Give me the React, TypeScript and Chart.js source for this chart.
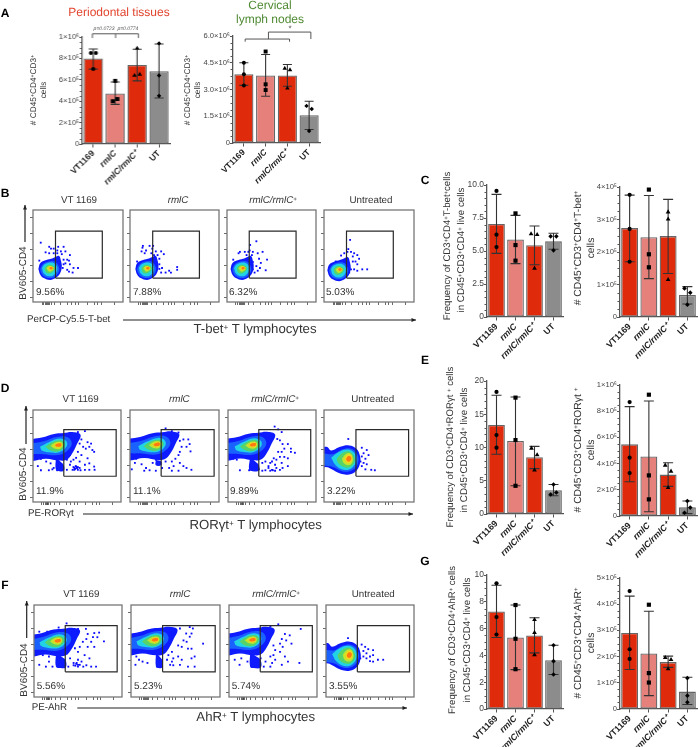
import React, { useEffect, useRef } from "react";
import { Chart, registerables } from "chart.js";

Chart.register(...registerables);

const FONT = '"Liberation Sans", Arial, sans-serif';
const RED = "#DF2A0C";
const PINK = "#E6807A";
const GREY = "#8C8C8C";
const AXIS = "#555555";

// ---------- Bar chart data ----------
const categories = ["VT1169", "rmlC", "rmlC/rmlC⁺", "UT"];

const a1Ticks = [0, 2e5, 4e5, 6e5, 8e5, 1e6];
const a1TickLabels = ["0", "2×10⁵", "4×10⁵", "6×10⁵", "8×10⁵", "1×10⁶"];
const a1Means = [8.0e5, 4.72e5, 7.38e5, 6.8e5];
const a1Lo = [7.0e5, 3.7e5, 5.9e5, 4.3e5];
const a1Hi = [8.88e5, 5.8e5, 8.85e5, 9.35e5];
const a1Pts = [
  [[-0.11, 8.5e5], [0.12, 8.5e5], [0, 7.0e5]],
  [[0, 5.9e5], [0.1, 4.2e5], [-0.11, 4.0e5]],
  [[0, 8.95e5], [-0.12, 6.4e5], [0.12, 6.5e5]],
  [[0, 9.4e5], [0, 6.4e5], [0, 4.5e5]],
];
const a1Brackets = [
  [[-0.04, 0.99e6], [-0.04, 1.03e6], [2.06, 1.03e6], [2.06, 0.99e6]],
  [[1.02, 1.03e6], [1.02, 0.99e6]],
];

const a2Ticks = [0, 1.5e6, 3e6, 4.5e6, 6e6];
const a2TickLabels = ["0", "1.5×10⁶", "3.0×10⁶", "4.5×10⁶", "6.0×10⁶"];
const a2Means = [3.86e6, 3.79e6, 3.79e6, 1.56e6];
const a2Lo = [3.23e6, 2.62e6, 3.18e6, 0.76e6];
const a2Hi = [4.5e6, 4.96e6, 4.4e6, 2.34e6];
const a2Pts = [
  [[0, 4.5e6], [0, 3.85e6], [0, 3.23e6]],
  [[0, 5.13e6], [0, 3.29e6], [0, 2.97e6]],
  [[-0.12, 4.18e6], [0.12, 4.1e6], [0, 3.07e6]],
  [[-0.12, 2.08e6], [0.12, 1.91e6], [0, 0.67e6]],
];
const a2Brackets = [
  [[0.06, 5.68e6], [0.06, 5.83e6], [2.1, 5.83e6], [2.1, 5.68e6]],
  [[1.13, 5.83e6], [1.13, 6.22e6], [3.08, 6.22e6], [3.08, 5.83e6]],
];

const c1Ticks = [0, 2.5, 5, 7.5, 10];
const c1TickLabels = ["0", "2.5", "5.0", "7.5", "10.0"];
const c1Means = [7.05, 5.88, 5.43, 5.73];
const c1Lo = [4.82, 4.04, 3.96, 5.13];
const c1Hi = [9.29, 7.7, 6.89, 6.34];
const c1Pts = [
  [[0, 9.55], [0, 6.24], [0, 5.3]],
  [[0, 7.85], [0, 5.45], [0, 4.27]],
  [[-0.18, 6.29], [0.14, 6.24], [0, 3.69]],
  [[-0.15, 6.11], [0.15, 6.11], [0, 5.05]],
];

const c2Ticks = [0, 1e5, 2e5, 3e5, 4e5];
const c2TickLabels = ["0", "1×10⁵", "2×10⁵", "3×10⁵", "4×10⁵"];
const c2Means = [2.735e5, 2.457e5, 2.49e5, 0.68e5];
const c2Lo = [1.7e5, 1.18e5, 1.34e5, 0.4e5];
const c2Hi = [3.75e5, 3.74e5, 3.62e5, 0.936e5];
const c2Pts = [
  [[0, 3.76e5], [0, 2.71e5], [0, 1.7e5]],
  [[0, 3.92e5], [0, 1.93e5], [0, 1.53e5]],
  [[0, 3.23e5], [0, 3.01e5], [0, 1.15e5]],
  [[-0.15, 0.88e5], [0.15, 0.75e5], [0, 0.38e5]],
];

const e1Ticks = [0, 5, 10, 15, 20];
const e1TickLabels = ["0", "5", "10", "15", "20"];
const e1Means = [13.4, 10.97, 8.53, 3.59];
const e1Lo = [8.98, 4.24, 6.83, 2.74];
const e1Hi = [17.86, 17.6, 10.17, 4.44];
const e1Pts = [
  [[0, 18.35], [0, 11.87], [0, 9.97]],
  [[0, 17.5], [0, 11.12], [0, 4.24]],
  [[-0.16, 9.88], [0.14, 8.88], [0, 6.58]],
  [[0, 4.44], [-0.15, 2.94], [0.15, 3.24]],
];

const e2Ticks = [0, 2e5, 4e5, 6e5, 8e5, 1e6];
const e2TickLabels = ["0", "2×10⁵", "4×10⁵", "6×10⁵", "8×10⁵", "1×10⁶"];
const e2Means = [5.47e5, 4.55e5, 3.16e5, 0.66e5];
const e2Lo = [2.62e5, 0.33e5, 2.26e5, 0.18e5];
const e2Hi = [8.35e5, 8.78e5, 4.07e5, 1.15e5];
const e2Pts = [
  [[0, 8.7e5], [0, 4.45e5], [0, 3.28e5]],
  [[0, 9.26e5], [0, 3.1e5], [0, 1.27e5]],
  [[-0.15, 3.87e5], [0.15, 3.41e5], [0, 2.16e5]],
  [[0, 1.15e5], [0.15, 0.64e5], [-0.15, 0.25e5]],
];

const g1Ticks = [0, 2, 4, 6, 8, 10];
const g1TickLabels = ["0", "2", "4", "6", "8", "10"];
const g1Means = [7.28, 5.34, 5.49, 3.64];
const g1Lo = [5.34, 2.94, 4.19, 2.57];
const g1Hi = [9.23, 7.76, 6.81, 4.76];
const g1Pts = [
  [[0, 9.38], [0, 6.86], [0, 5.56]],
  [[0, 7.76], [0, 5.24], [0, 2.97]],
  [[0, 6.66], [0, 5.69], [0, 4.04]],
  [[0, 4.76], [0, 3.57], [0, 2.57]],
];

const g2Ticks = [0, 1e5, 2e5, 3e5, 4e5, 5e5];
const g2TickLabels = ["0", "1×10⁵", "2×10⁵", "3×10⁵", "4×10⁵", "5×10⁵"];
const g2Means = [2.9e5, 2.12e5, 1.79e5, 0.665e5];
const g2Lo = [1.51e5, 0.51e5, 1.59e5, 0.17e5];
const g2Hi = [4.31e5, 3.73e5, 2.02e5, 1.21e5];
const g2Pts = [
  [[0, 4.5e5], [0, 2.28e5], [0, 1.91e5]],
  [[0, 3.98e5], [0, 1.37e5], [0, 1.01e5]],
  [[-0.15, 1.96e5], [0.15, 1.88e5], [0, 1.53e5]],
  [[0, 1.18e5], [0, 0.51e5], [0, 0.26e5]],
];

// ---------- Flow cytometry data (axes run 0–100 across each frame) ----------
const densityColors = ["#0f1bff", "#1a62ff", "#22d3e6", "#56d468", "#c5e32c", "#ffd21c", "#ff7a10", "#e6120c"];

const smallBlob = [
  [[6, 36], [8, 42], [13, 45], [20, 47], [25, 49], [29, 50], [31, 45], [32, 38], [30, 31], [25, 26], [19, 24], [12, 26], [8, 30]],
  [[8, 36], [11, 41], [17, 44], [24, 44], [28, 40], [29, 34], [25, 28], [19, 26], [12, 28], [9, 32]],
  [[10, 37], [13, 41], [20, 43], [25, 41], [27, 36], [24, 30], [18, 28], [12, 31]],
  [[13, 37], [16, 40], [21, 40], [24, 38], [24, 35], [21, 32], [17, 31], [14, 33]],
  [[15, 37], [18, 39], [22, 38], [23, 36], [21, 34], [18, 33], [16, 35]],
  [[17, 37], [19, 38.5], [22, 38], [22.5, 36.5], [20.5, 35], [18, 35]],
  [[18, 37], [20, 38], [22, 37], [21, 35.5], [19, 35.5]],
];
const cometBlob = [
  [[-5, 68], [10, 70], [24, 74], [35, 75], [45, 76], [54, 73], [50, 63], [44, 52], [38, 46], [30, 45], [15, 47], [-5, 46]],
  [[-5, 63], [12, 66], [28, 71], [40, 70], [44, 63], [38, 55], [28, 51], [12, 52], [-5, 54]],
  [[8, 60], [18, 65], [30, 69], [38, 66], [38, 60], [30, 54], [18, 54], [10, 56]],
  [[14, 60], [22, 65], [31, 67], [36, 64], [35, 59], [28, 55], [20, 56]],
  [[20, 61], [26, 65], [32, 65], [34, 62], [31, 58], [25, 58]],
  [[24, 62], [28, 64], [32, 64], [33, 62], [30, 59.5], [26, 60]],
  [[25, 62], [28, 63.5], [32, 63.5], [32, 61], [29, 60], [26, 60.5]],
];
const bigBlob = [
  [[-5, 58], [3, 60], [8, 56], [18, 60], [28, 61.5], [36, 58], [40, 50], [40, 42], [36, 34], [28, 30], [18, 31], [8, 36], [2, 38], [-5, 36]],
  [[-5, 54], [10, 52], [20, 57], [30, 58], [37, 52], [38, 43], [32, 35], [22, 33], [10, 38], [-5, 42]],
  [[8, 48], [16, 54], [26, 57], [34, 53], [36, 45], [31, 37], [22, 35], [13, 40]],
  [[14, 47], [20, 53], [28, 55], [33, 50], [34, 44], [29, 38], [22, 38], [16, 42]],
  [[20, 47], [24, 52], [29, 53], [32, 48], [31, 42], [27, 40], [22, 42]],
  [[23, 47], [26, 51], [30, 50.5], [31, 46], [29, 43], [25, 43]],
  [[24.5, 47], [27, 50], [30, 49], [30, 46], [28, 44], [25.5, 44.5]],
];

const flowXTicks = [10, 12, 14, 15, 16, 17, 18, 20, 24, 30, 38, 43, 47, 50, 60, 68, 72, 76, 90];
const flowYTicks = [5, 22, 40, 57, 75, 92];

const bDots = [
  [[8.6, 64.5], [14, 54], [20, 58], [18, 60], [23, 58], [28, 60], [34, 60], [27, 56], [31, 55], [36, 55], [32, 52], [38, 46], [40, 45], [34, 46], [36, 42], [41, 41], [45, 37], [50, 37], [44, 32], [40, 33], [38, 35], [34, 41], [33, 37], [27, 53], [23, 53], [18, 53], [7, 45], [41, 51]],
  [[14.5, 61], [22, 61], [18, 56], [25, 58], [29, 55], [35, 55], [31, 51], [33, 47], [29, 44], [33, 41], [36, 37], [44, 34], [53, 38], [53, 35], [40, 32], [35, 32], [46, 32], [29, 34], [33, 36], [13, 55], [16.5, 53], [24, 53], [27, 51], [8, 44], [14, 59], [26, 61], [38, 52]],
  [[33, 66], [26, 62], [25.5, 56], [24, 54.5], [29, 54.5], [34.5, 53], [40, 54.5], [28, 51], [36, 47], [45, 46], [38, 42.5], [37, 37], [29, 43.5], [33, 39], [29, 35.5], [34.5, 34], [43.5, 34.5], [14.5, 54.5], [20, 54.5], [7, 46], [31, 32], [22, 51], [13, 53]],
  [[29, 67.5], [27, 57.5], [26, 54.5], [30, 54.5], [33.5, 53], [37, 51], [32, 49.5], [39, 47], [35, 44], [37, 41], [33.5, 35.5], [30, 35.5], [37, 34], [42.5, 35.5], [48, 35.5], [19, 50.5], [13, 44], [22.5, 53], [32, 44], [28, 32]],
];
const dDots = [
  [[51, 76], [59, 77], [55, 68], [62, 65], [53, 63.5], [57, 60], [64, 60], [67.5, 56.5], [69.5, 54.5], [66, 63.5], [60, 58], [51, 54.5], [55, 51], [49, 48], [46, 46], [53, 44], [59, 40.5], [64, 42], [69.5, 38.5], [70, 35], [59, 35], [53, 37], [47, 37], [51, 35], [48.5, 39], [42, 40.5], [38.5, 35], [33, 37], [27.5, 34.5], [22, 35.5], [18, 34.5], [9, 47], [5.5, 39], [9, 34.5], [15, 44], [20, 42], [23.5, 37], [38.5, 46], [42, 51], [62, 47.5], [64, 35], [45, 35], [54, 34.5], [43, 44], [46, 38], [48, 36], [50, 37], [49, 38.5], [47, 35], [51, 38]],
  [[40, 80], [47, 77], [54.5, 75.5], [51, 70], [56, 66.5], [60, 68], [65.5, 68], [67, 63], [68, 55], [63.5, 60], [58, 60], [56, 54.5], [54.5, 51], [51, 47], [47, 44], [56, 42.5], [60, 39], [63.5, 37], [69, 35], [49, 39], [44, 37], [36, 37], [29, 34], [22, 34.5], [16, 34], [18, 37], [13, 41], [7, 47], [5.5, 42.5], [2, 35.5], [25.5, 42.5], [47, 34], [54.5, 34], [40, 44], [29, 46]],
  [[53, 82], [57, 79], [61, 76], [56, 68.5], [59, 67], [62, 63], [68, 63], [71.5, 58], [76, 53.5], [64, 58], [61, 54.5], [59, 49], [55, 46], [52, 47.5], [48, 42.5], [53.5, 40.5], [61, 42.5], [68, 47.5], [71.5, 54.5], [46, 37], [50, 35], [55, 37], [46, 39], [42.5, 44], [39, 42.5], [62, 37], [68, 39], [59, 35], [51, 34.5], [42.5, 34.5], [35, 35.5], [28, 35.5], [24, 34.5], [13.5, 34.5], [10, 46], [6, 47], [50, 44], [57, 54.5], [64, 49], [48, 34], [53.5, 34], [39, 34]],
  [[27, 68.5], [42, 59], [47.5, 56.5], [44, 53], [49.5, 51], [42, 49.5], [46, 47], [40.5, 44], [44, 42.5], [47.5, 41], [42, 39], [46, 35.5], [52.5, 35], [56.5, 34.5], [38, 41]],
];
const fDots = [
  [[6, 71], [15, 71], [28, 75.5], [37, 80], [50, 74], [59, 74], [61, 68.5], [68.5, 69.5], [74, 70], [72, 65], [67, 65], [59.5, 63], [55.5, 60], [65, 60], [61, 54.5], [68.5, 54.5], [79.5, 60.5], [52, 54.5], [46.5, 53], [50, 49], [57.5, 45.5], [63, 42], [50, 40.5], [45, 37], [37.5, 47.5], [41, 42], [50, 35], [45, 34.5], [39, 33], [65, 33], [70.5, 33], [59.5, 34.5], [54, 38.5], [10, 45.5], [17, 38.5], [13.5, 33], [6, 35], [21, 33], [30, 38.5], [52, 35], [48.5, 37], [56, 33], [17, 44], [47, 34], [50, 33], [48, 36]],
  [[55, 74.5], [66, 76], [69.5, 74.5], [68, 69], [62, 69], [66, 65.5], [59, 61.5], [62.5, 60], [81, 58], [53, 56], [57, 54.5], [64, 52.5], [68, 52.5], [46, 49], [47.5, 42], [53, 44], [57, 40.5], [68, 42], [71.5, 44], [40.5, 40.5], [44, 35], [47.5, 34.5], [55, 35], [64, 33], [71.5, 33], [6, 44], [9, 40.5], [13, 38.5], [18.5, 37], [5, 35], [46, 38.5], [42, 45.5]],
  [[56, 79], [47, 76.5], [81.5, 74], [63.5, 68.5], [69, 67], [60, 63], [65, 61.5], [58, 58], [61, 54.5], [71, 58], [50.5, 56], [52.5, 51], [47, 44], [50.5, 45.5], [58, 49], [63.5, 44], [52.5, 40.5], [49, 37], [41.5, 38.5], [36, 42], [39.5, 33], [60, 35], [67, 38.5], [80, 37], [47, 33], [12, 35], [6.5, 40.5], [14, 42], [21, 38.5]],
  [[25, 64], [40.5, 57], [44.5, 54.5], [48, 52], [53.5, 51], [42.5, 50], [46, 47.5], [50, 44], [53.5, 45.5], [42.5, 44], [59, 40.5], [65, 40.5], [53.5, 38.5], [50, 39], [39, 42], [46, 42]],
];
const dStems = [
  [[26, 48], [31, 44], [35, 40], [35, 34], [30, 33.5], [26, 35]],
  [[29, 46], [35, 44], [35, 40], [29, 40]],
  [[25, 48], [31, 44], [35, 40], [35, 34], [28, 33.5], [24, 35]],
  [],
];
const fStems = [
  [[25, 48], [31, 44], [36, 40], [36, 32], [30, 31.5], [25, 33]],
  [[28, 48], [32, 44], [35, 40], [35, 32], [31, 31.5], [28, 33]],
  [[24, 48], [31, 44], [36, 40], [36, 32], [28, 31.5], [24, 33]],
  [],
];

// ---------- Chart builders ----------
const noLegend = { legend: { display: false }, tooltip: { enabled: false } };

const barExtras = (o: any) => ({
  id: "barExtras",
  afterDatasetDraw(chart: any, args: any) {
    if (args.index !== 0) return;
    const { ctx, scales: { x, y } } = chart;
    ctx.save();
    ctx.strokeStyle = "#333333";
    ctx.lineWidth = 1.1;
    o.means.forEach((_: number, i: number) => {
      const px = x.getPixelForValue(i);
      const a = y.getPixelForValue(o.lo[i]);
      const b = y.getPixelForValue(o.hi[i]);
      ctx.beginPath();
      ctx.moveTo(px, a); ctx.lineTo(px, b);
      ctx.moveTo(px - o.cap, a); ctx.lineTo(px + o.cap, a);
      ctx.moveTo(px - o.cap, b); ctx.lineTo(px + o.cap, b);
      ctx.stroke();
    });
    ctx.restore();
  },
  afterDraw(chart: any) {
    const { ctx, scales: { x, y } } = chart;
    ctx.save();
    ctx.strokeStyle = AXIS;
    ctx.lineWidth = 1;
    for (let k = 0; k < o.ticks.length - 1; k++) {
      const v0 = o.ticks[k], v1 = o.ticks[k + 1];
      for (let m = 1; m < o.minor; m++) {
        const py = Math.round(y.getPixelForValue(v0 + ((v1 - v0) * m) / o.minor)) + 0.5;
        ctx.beginPath();
        ctx.moveTo(x.left - 2.5, py); ctx.lineTo(x.left, py);
        ctx.stroke();
      }
    }
    (o.brackets || []).forEach((path: number[][]) => {
      ctx.beginPath();
      path.forEach(([a, b], i) => {
        const px = x.getPixelForValue(a), py = y.getPixelForValue(b);
        if (i) ctx.lineTo(px, py); else ctx.moveTo(px, py);
      });
      ctx.stroke();
    });
    ctx.restore();
  },
});

const M = { l: 38, t: 14, r: 4, b: 44 };
const markerStyles = ["circle", "rect", "triangle", "rectRot"];
const markerScale = [1, 1.4, 1.3, 1.1];

function barConfig(s: any) {
  const flat: any[] = [];
  s.pts.forEach((list: number[][], i: number) =>
    list.forEach(([dx, v]) => flat.push({ x: i + dx, y: v, style: markerStyles[i], size: s.r * markerScale[i] })),
  );
  const cfg: any = {
    type: "bar",
    data: {
      datasets: [
        {
          type: "bar",
          order: 2,
          data: s.means.map((v: number, i: number) => ({ x: i, y: v })),
          backgroundColor: [RED, PINK, RED, GREY],
          borderColor: "#666666",
          borderWidth: 1.3,
          borderSkipped: false,
          barPercentage: 0.88,
          categoryPercentage: 1,
        },
        {
          type: "scatter",
          order: 1,
          data: flat,
          backgroundColor: "#000000",
          borderWidth: 0,
          pointRadius: flat.map((p) => p.size),
          pointStyle: flat.map((p) => p.style),
          clip: false,
        },
      ],
    },
    options: {
      animation: false,
      responsive: false,
      devicePixelRatio: 1,
      layout: { padding: { left: 0, top: M.t, right: M.r, bottom: 0 } },
      plugins: noLegend,
      scales: {
        x: {
          type: "linear",
          offset: false,
          min: -0.5,
          max: 3.5,
          afterBuildTicks: (sc: any) => { sc.ticks = categories.map((_, i) => ({ value: i })); },
          afterFit: (sc: any) => { sc.height = M.b; },
          border: { display: true, color: AXIS, width: 1.3 },
          grid: { display: true, offset: false, drawOnChartArea: false, drawTicks: true, tickLength: 3.5, color: AXIS, lineWidth: 1 },
          ticks: {
            autoSkip: false,
            minRotation: 45,
            maxRotation: 45,
            padding: 1,
            color: "#222222",
            font: (c: any) => ({
              family: FONT,
              size: s.catFont,
              weight: "bold",
              style: c.tick && (c.tick.value === 1 || c.tick.value === 2) ? "italic" : "normal",
            }),
            callback: (v: number) => categories[v],
          },
        },
        y: {
          min: 0,
          max: s.ticks[s.ticks.length - 1],
          afterBuildTicks: (sc: any) => { sc.ticks = s.ticks.map((value: number) => ({ value })); },
          afterFit: (sc: any) => { sc.width = M.l; },
          border: { display: true, color: AXIS, width: 1.3 },
          grid: { display: true, drawOnChartArea: false, drawTicks: true, tickLength: 3, color: AXIS, lineWidth: 1 },
          ticks: {
            padding: 0,
            color: "#444444",
            font: { family: FONT, size: s.tickFont },
            callback: (v: number) => s.tickLabels[s.ticks.indexOf(v)],
          },
        },
      },
    },
    plugins: [barExtras(s)],
  };
  return cfg;
}

const flowFrame = {
  id: "flowFrame",
  afterDraw(chart: any) {
    const { ctx, chartArea: a } = chart;
    ctx.save();
    ctx.strokeStyle = "#777777";
    ctx.lineWidth = 1.3;
    ctx.strokeRect(a.left, a.top, a.right - a.left, a.bottom - a.top);
    ctx.restore();
  },
};

function flowConfig(p: any) {
  const close = (pts: number[][]) => [...pts, pts[0]].map(([x, y]) => ({ x: x + p.shift[0], y: y + p.shift[1] }));
  const area = (pts: number[][], color: string, order: number) => ({
    data: close(pts),
    showLine: true,
    fill: "shape",
    tension: 0.4,
    borderWidth: 0,
    pointRadius: 0,
    backgroundColor: color,
    borderColor: color,
    order,
  });
  const [gx0, gx1, gy0, gy1] = p.gate;
  const datasets: any[] = [
    {
      data: p.dots.map(([x, y]: number[]) => ({ x, y })),
      pointStyle: "rect",
      pointRadius: 1.3,
      borderWidth: 0,
      backgroundColor: "#0a0aff",
      order: 100,
    },
  ];
  if (p.stem.length) {
    datasets.push({ ...area(p.stem, densityColors[0], 96), data: [...p.stem, p.stem[0]].map(([x, y]: number[]) => ({ x, y })) });
  }
  p.blob.forEach((pts: number[][], i: number) => {
    datasets.push(area(pts, i === 0 ? densityColors[0] : densityColors[i], 90 - i));
  });
  datasets.push({
    data: [[gx0, gy0], [gx1, gy0], [gx1, gy1], [gx0, gy1], [gx0, gy0]].map(([x, y]) => ({ x, y })),
    showLine: true,
    fill: false,
    borderColor: "#2a2a2a",
    borderWidth: 1.2,
    pointRadius: 0,
    order: 1,
  });
  const gridOpt = { display: true, drawOnChartArea: false, drawTicks: true, tickLength: 3, color: "#444444", lineWidth: 0.8 };
  return {
    type: "scatter",
    data: { datasets },
    options: {
      animation: false,
      responsive: false,
      devicePixelRatio: 1,
      layout: { padding: { top: 1, right: 1, left: 0, bottom: 0 } },
      plugins: noLegend,
      scales: {
        x: {
          type: "linear",
          min: 0,
          max: 100,
          afterBuildTicks: (sc: any) => { sc.ticks = flowXTicks.map((value) => ({ value })); },
          afterFit: (sc: any) => { sc.height = 4; },
          border: { display: false },
          grid: gridOpt,
          ticks: { display: false },
        },
        y: {
          min: 0,
          max: 100,
          afterBuildTicks: (sc: any) => { sc.ticks = flowYTicks.map((value) => ({ value })); },
          afterFit: (sc: any) => { sc.width = 4; },
          border: { display: false },
          grid: gridOpt,
          ticks: { display: false },
        },
      },
    },
    plugins: [flowFrame],
  };
}

// ---------- Layout tables ----------
const barPanels = [
  { left: 82, right: 169.5, top: 37, bottom: 144, ticks: a1Ticks, tickLabels: a1TickLabels, means: a1Means, lo: a1Lo, hi: a1Hi, pts: a1Pts, minor: 4, tickFont: 7.6, catFont: 8.5, cap: 4.5, r: 2, brackets: a1Brackets },
  { left: 233, right: 320, top: 36, bottom: 143, ticks: a2Ticks, tickLabels: a2TickLabels, means: a2Means, lo: a2Lo, hi: a2Hi, pts: a2Pts, minor: 4, tickFont: 7.6, catFont: 8.5, cap: 4.5, r: 2, brackets: a2Brackets },
  { left: 487, right: 563, top: 185, bottom: 317, ticks: c1Ticks, tickLabels: c1TickLabels, means: c1Means, lo: c1Lo, hi: c1Hi, pts: c1Pts, minor: 5, tickFont: 8.5, catFont: 8.8, cap: 5, r: 2.1 },
  { left: 620, right: 697, top: 187, bottom: 317, ticks: c2Ticks, tickLabels: c2TickLabels, means: c2Means, lo: c2Lo, hi: c2Hi, pts: c2Pts, minor: 4, tickFont: 7.6, catFont: 8.8, cap: 5, r: 2.1 },
  { left: 487, right: 563, top: 381, bottom: 514, ticks: e1Ticks, tickLabels: e1TickLabels, means: e1Means, lo: e1Lo, hi: e1Hi, pts: e1Pts, minor: 5, tickFont: 8.5, catFont: 8.8, cap: 5, r: 2.1 },
  { left: 620, right: 697, top: 385, bottom: 516, ticks: e2Ticks, tickLabels: e2TickLabels, means: e2Means, lo: e2Lo, hi: e2Hi, pts: e2Pts, minor: 4, tickFont: 7.6, catFont: 8.8, cap: 5, r: 2.1 },
  { left: 487, right: 563, top: 575, bottom: 709, ticks: g1Ticks, tickLabels: g1TickLabels, means: g1Means, lo: g1Lo, hi: g1Hi, pts: g1Pts, minor: 4, tickFont: 8.5, catFont: 8.8, cap: 5, r: 2.1 },
  { left: 620, right: 697, top: 578, bottom: 709, ticks: g2Ticks, tickLabels: g2TickLabels, means: g2Means, lo: g2Lo, hi: g2Hi, pts: g2Pts, minor: 4, tickFont: 7.6, catFont: 8.8, cap: 5, r: 2.1 },
];

const flowPanels = [
  { top: 207, bottom: 302, frames: [[33, 126], [130, 222], [227, 319], [324, 417]], gates: [[25, 77, 26, 77], [25.5, 78, 26, 77], [25, 77.6, 26, 77], [25, 77, 26, 77]], blobs: [smallBlob, smallBlob, smallBlob, smallBlob], shifts: [[0, 0], [0, 0], [-2, 0], [-2.3, -1.4]], dots: bDots, stems: [[], [], [], []] },
  { top: 407, bottom: 502, frames: [[33, 124], [130, 222], [228, 319], [324, 417]], gates: [[35, 94.5, 28, 78.7], [35, 94.5, 28, 78.7], [35, 94, 28, 78.7], [35.5, 94, 28, 78.7]], blobs: [cometBlob, cometBlob, cometBlob, bigBlob], shifts: [[0, 0], [1.3, 0.7], [-0.5, 0.3], [0, 0]], dots: dDots, stems: dStems },
  { top: 602, bottom: 697, frames: [[34, 125], [131, 223], [229, 320], [326, 417]], gates: [[35.5, 94.5, 27.4, 77.5], [35.5, 94.6, 27.4, 77.5], [35.5, 94.7, 27.4, 77.5], [35.6, 94.9, 27.4, 77.5]], blobs: [cometBlob, cometBlob, cometBlob, bigBlob], shifts: [[-1.8, -0.7], [-1.9, 0.3], [-2.2, 0.3], [-1, -1.4]], dots: fDots, stems: fStems },
];

// x, y (centre), size, text; optional rot, color, bold, italic, anchor
const labels: any[] = [
  { x: 5, y: 13, s: 12, t: "A", bold: true, c: "#000" },
  { x: 5, y: 193, s: 12, t: "B", bold: true, c: "#000" },
  { x: 5, y: 388, s: 12, t: "D", bold: true, c: "#000" },
  { x: 5, y: 585, s: 12, t: "F", bold: true, c: "#000" },
  { x: 425, y: 180, s: 12, t: "C", bold: true, c: "#000" },
  { x: 425, y: 360, s: 12, t: "E", bold: true, c: "#000" },
  { x: 425, y: 561, s: 12, t: "G", bold: true, c: "#000" },

  { x: 119, y: 12, s: 12, t: "Periodontal tissues", c: "#E2452F" },
  { x: 270, y: 5, s: 12, t: "Cervical", c: "#4F8A33" },
  { x: 270, y: 19, s: 12, t: "lymph nodes", c: "#4F8A33" },
  { x: 116, y: 29, s: 5, t: "p=0.0723  p=0.0774", italic: true, c: "#555" },
  { x: 290, y: 29, s: 8, t: "*", c: "#444" },

  { x: 33, y: 90, s: 8.3, rot: -90, t: "# CD45⁺CD4⁺CD3⁺" },
  { x: 43, y: 90, s: 8.3, rot: -90, t: "cells" },
  { x: 187, y: 90, s: 8.3, rot: -90, t: "# CD45⁺CD4⁺CD3⁺" },
  { x: 197, y: 90, s: 8.3, rot: -90, t: "cells" },

  { x: 448, y: 246, s: 9.6, rot: -90, t: "Frequency of CD3⁺CD4⁺T-bet⁺cells" },
  { x: 462, y: 250, s: 9.8, rot: -90, t: "in CD45⁺CD3⁺CD4⁺ live cells" },
  { x: 579, y: 248, s: 10.3, rot: -90, t: "# CD45⁺CD3⁺CD4⁺T-bet⁺" },
  { x: 592, y: 248, s: 10.3, rot: -90, t: "cells" },
  { x: 451, y: 447, s: 9.6, rot: -90, t: "Frequency of CD3⁺CD4⁺RORγt ⁺ cells" },
  { x: 465, y: 450, s: 9.8, rot: -90, t: "in CD45⁺CD3⁺CD4⁺ live cells" },
  { x: 579, y: 450, s: 10.3, rot: -90, t: "# CD45⁺CD3⁺CD4⁺RORγt ⁺" },
  { x: 592, y: 450, s: 10.3, rot: -90, t: "cells" },
  { x: 453, y: 640, s: 9.6, rot: -90, t: "Frequency of CD3⁺CD4⁺AhR⁺ cells" },
  { x: 468, y: 640, s: 9.8, rot: -90, t: "in CD45⁺CD3⁺CD4⁺ live cells" },
  { x: 579, y: 643, s: 10.3, rot: -90, t: "# CD45⁺CD3⁺CD4⁺AhR⁺" },
  { x: 592, y: 643, s: 10.3, rot: -90, t: "cells" },

  { x: 79, y: 200.5, s: 9.8, t: "VT 1169" },
  { x: 178, y: 200.5, s: 9.8, t: "rmlC", italic: true },
  { x: 273, y: 200.5, s: 9.8, t: "rmlC/rmlC⁺", italic: true },
  { x: 371, y: 200.5, s: 9.8, t: "Untreated" },
  { x: 36, y: 292.5, s: 10, t: "9.56%", a: "l" },
  { x: 133, y: 292.5, s: 10, t: "7.88%", a: "l" },
  { x: 229, y: 292.5, s: 10, t: "6.32%", a: "l" },
  { x: 326, y: 292.5, s: 10, t: "5.03%", a: "l" },
  { x: 24, y: 273, s: 10, rot: -90, t: "BV605-CD4" },
  { x: 27, y: 320, s: 9.8, t: "PerCP-Cy5.5-T-bet", a: "l" },
  { x: 255, y: 329, s: 13.2, t: "T-bet⁺ T lymphocytes" },

  { x: 80.7, y: 400, s: 9.8, t: "VT 1169" },
  { x: 179.3, y: 400, s: 9.8, t: "rmlC", italic: true },
  { x: 275, y: 400, s: 9.8, t: "rmlC/rmlC⁺", italic: true },
  { x: 372.7, y: 400, s: 9.8, t: "Untreated" },
  { x: 36, y: 492, s: 10, t: "11.9%", a: "l" },
  { x: 133, y: 492, s: 10, t: "11.1%", a: "l" },
  { x: 230, y: 492, s: 10, t: "9.89%", a: "l" },
  { x: 327, y: 492, s: 10, t: "3.22%", a: "l" },
  { x: 24, y: 474, s: 10, rot: -90, t: "BV605-CD4" },
  { x: 28, y: 514, s: 9.8, t: "PE-RORγt", a: "l" },
  { x: 255.7, y: 524.7, s: 13.2, t: "RORγt⁺ T lymphocytes" },

  { x: 81.3, y: 595, s: 9.8, t: "VT 1169" },
  { x: 180, y: 595, s: 9.8, t: "rmlC", italic: true },
  { x: 276, y: 595, s: 9.8, t: "rmlC/rmlC⁺", italic: true },
  { x: 373.3, y: 595, s: 9.8, t: "Untreated" },
  { x: 36.7, y: 687, s: 10, t: "5.56%", a: "l" },
  { x: 134, y: 687, s: 10, t: "5.23%", a: "l" },
  { x: 231.7, y: 687, s: 10, t: "5.74%", a: "l" },
  { x: 329, y: 687, s: 10, t: "3.55%", a: "l" },
  { x: 25, y: 670, s: 10, rot: -90, t: "BV605-CD4" },
  { x: 31.7, y: 708, s: 9.8, t: "PE-AhR", a: "l" },
  { x: 255.7, y: 717, s: 13.2, t: "AhR⁺ T lymphocytes" },
];

// x1, y1, x2, y2 with the arrow head at x2, y2
const arrows = [
  [25, 242, 25, 205],
  [123, 320, 416, 320],
  [26, 444, 26, 406],
  [83, 514, 413, 514],
  [26.7, 638, 26.7, 601],
  [77.3, 708, 407, 708],
];

// ---------- Components ----------
function Box({ x, y, w, h, config }: any) {
  const ref = useRef<HTMLCanvasElement>(null);
  useEffect(() => {
    const chart = new Chart(ref.current as any, config());
    return () => chart.destroy();
  }, []);
  return (
    <canvas
      ref={ref}
      width={w}
      height={h}
      style={{ position: "absolute", left: x, top: y, width: w, height: h, display: "block" }}
    />
  );
}

function Text({ l }: any) {
  const parts = String(l.t).split("⁺");
  const tr = `translate(${l.a === "l" ? "0" : "-50%"}, -50%) rotate(${l.rot || 0}deg)`;
  return (
    <div
      style={{
        position: "absolute",
        left: l.x,
        top: l.y,
        transform: tr,
        whiteSpace: "pre",
        fontFamily: FONT,
        fontSize: l.s,
        lineHeight: 1,
        textRendering: "geometricPrecision",
        color: l.c || "#333333",
        fontWeight: l.bold ? 700 : 400,
        fontStyle: l.italic ? "italic" : "normal",
      }}
    >
      {parts.map((p, i) => (
        <React.Fragment key={i}>
          {p}
          {i < parts.length - 1 ? (
            <sup style={{ fontSize: "0.62em", lineHeight: 0, verticalAlign: "0.42em" }}>+</sup>
          ) : null}
        </React.Fragment>
      ))}
    </div>
  );
}

export default function App() {
  return (
    <div style={{ position: "absolute", left: 0, top: 0, width: 698, height: 747, overflow: "hidden", background: "#fff", filter: "blur(0.35px)" }}>
      {barPanels.map((s, i) => (
        <Box
          key={"b" + i}
          x={s.left - M.l}
          y={s.top - M.t}
          w={s.right - s.left + M.l + M.r}
          h={s.bottom - s.top + M.t + M.b}
          config={() => barConfig(s)}
        />
      ))}
      {flowPanels.flatMap((g, gi) =>
        g.frames.map((f, i) => (
          <Box
            key={`f${gi}-${i}`}
            x={f[0] - 4}
            y={g.top - 1}
            w={f[1] - f[0] + 5}
            h={g.bottom - g.top + 5}
            config={() =>
              flowConfig({ gate: g.gates[i], blob: g.blobs[i], shift: g.shifts[i], dots: g.dots[i], stem: g.stems[i] })
            }
          />
        )),
      )}
      <svg width={698} height={747} style={{ position: "absolute", left: 0, top: 0 }}>
        {arrows.map(([a, b, c, d], i) => {
          const ang = Math.atan2(d - b, c - a);
          const hx = 4.5, hy = 2;
          const p1 = [c - hx * Math.cos(ang) - hy * Math.sin(ang), d - hx * Math.sin(ang) + hy * Math.cos(ang)];
          const p2 = [c - hx * Math.cos(ang) + hy * Math.sin(ang), d - hx * Math.sin(ang) - hy * Math.cos(ang)];
          return (
            <g key={i}>
              <line x1={a} y1={b} x2={c} y2={d} stroke="#222" strokeWidth={1.2} />
              <polygon points={`${c},${d} ${p1[0]},${p1[1]} ${p2[0]},${p2[1]}`} fill="#222" />
            </g>
          );
        })}
      </svg>
      {labels.map((l, i) => (
        <Text key={i} l={l} />
      ))}
    </div>
  );
}
